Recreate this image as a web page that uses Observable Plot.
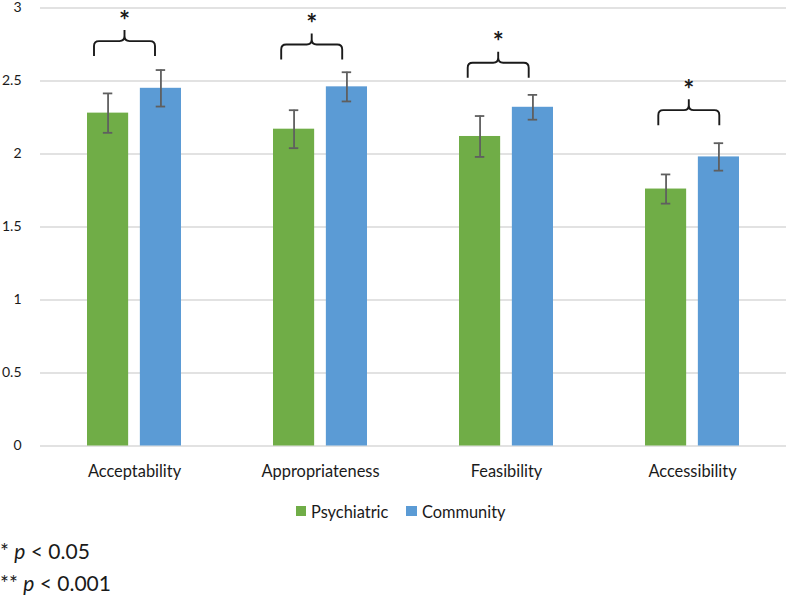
<!DOCTYPE html>
<html>
<head>
<meta charset="utf-8">
<script src="https://cdn.jsdelivr.net/npm/d3@7"></script>
<script src="https://cdn.jsdelivr.net/npm/@observablehq/plot@0.6"></script>
<style>
  body { margin: 0; background: #fff; font-family: Lato, sans-serif; color: #1a1a1a; overflow: hidden; }
  #chart svg { overflow: visible; }
  #chart svg text { font-family: Lato, sans-serif; }
  #chart g[aria-label^="x-axis"] text { font-size: 16.4px; fill: #1a1a1a; }
  #chart g[aria-label^="y-axis"] text { font-size: 14px; fill: #1a1a1a; }
  .legend { display: flex; justify-content: center; align-items: center; height: 24px; margin-top: 9px; padding-left: 14px; font-size: 16.4px; }
  .legend .item { display: flex; align-items: center; margin: 0 9px; }
  .legend .sw { width: 10.5px; height: 10.5px; margin-right: 5px; }
  .caption { margin-top: 12px; font-size: 21px; line-height: 32px; padding-left: 0; }
</style>
</head>
<body>
<div id="chart"></div>
<div class="legend" id="legend"></div>
<div class="caption" id="caption"></div>
<script>
// ---- data ----
const categories = ["Acceptability", "Appropriateness", "Feasibility", "Accessibility"];
const series = ["Psychiatric", "Community"];
const psychiatric = [2.28, 2.17, 2.12, 1.76];
const community = [2.45, 2.46, 2.32, 1.98];
const psychiatricErr = [0.135, 0.13, 0.14, 0.10];
const communityErr = [0.125, 0.10, 0.085, 0.094];
const yTicks = [0, 0.5, 1, 1.5, 2, 2.5, 3];
const significance = ["*", "*", "*", "*"];
const bracketLevel = [2.77, 2.747, 2.622, 2.297];
const captionLines = [["*", "p", "< 0.05"], ["**", "p", "< 0.001"]];
const colors = ["#70AD47", "#5B9BD5"];

// ---- layout / style constants ----
const W = 787, H = 490, ML = 40, MR = 1, MT = 7.5, MB = 44.5;
const PAD = 0.493;
const BW = (W - ML - MR) / categories.length * (1 - PAD);
const BAR_W = 41.7;
const OFF = BW / 2 - BAR_W / 2;
const CAP_INSET = (BW - 10) / 2;
const BRACKET_SHIFT = [-9.5, -8.3, -7.8, -3.2];
const BRACKET_HALF = 30.5;

const rows = categories.flatMap((c, i) => [
  {category: c, series: series[0], value: psychiatric[i], lo: psychiatric[i] - psychiatricErr[i], hi: psychiatric[i] + psychiatricErr[i]},
  {category: c, series: series[1], value: community[i], lo: community[i] - communityErr[i], hi: community[i] + communityErr[i]}
]);
const psych = rows.filter(d => d.series === series[0]);
const comm = rows.filter(d => d.series === series[1]);

const errColor = "#5f5f5f";

const bracketMark = (index, scales) => {
  const x = scales.x, y = scales.y;
  const bw = x.bandwidth ? x.bandwidth() : BW;
  const g = d3.create("svg:g").attr("aria-label", "significance");
  categories.forEach((c, i) => {
    const m = x(c) + bw / 2 + BRACKET_SHIFT[i];
    const L = m - BRACKET_HALF, R = m + BRACKET_HALF;
    const yH = y(bracketLevel[i]), yE = yH + 15, yP = yH - 11, r = 5;
    const d = `M${L},${yE}V${yH + r}Q${L},${yH} ${L + r},${yH}H${m - r}Q${m},${yH} ${m},${yH - r}V${yP}` +
              `M${m},${yH - r}Q${m},${yH} ${m + r},${yH}H${R - r}Q${R},${yH} ${R},${yH + r}V${yE}`;
    g.append("path").attr("d", d).attr("fill", "none").attr("stroke", "#1a1a1a").attr("stroke-width", 1.9);
    g.append("text").attr("x", m).attr("y", yH - 25 + 13.8).attr("text-anchor", "middle")
      .attr("font-size", 26).attr("font-weight", "bold").attr("fill", "#1a1a1a")
      .style("font-family", "Lato, sans-serif").text(significance[i]);
  });
  return g.node();
};

const chart = Plot.plot({
  width: W,
  height: H,
  marginLeft: ML,
  marginRight: MR,
  marginTop: MT,
  marginBottom: MB,
  style: {fontFamily: "Lato, sans-serif", background: "white", color: "#1a1a1a"},
  x: {domain: categories, paddingInner: PAD, paddingOuter: PAD / 2, tickSize: 0, tickPadding: 19, label: null},
  y: {domain: [0, 3], ticks: yTicks, tickFormat: d => String(d), tickSize: 0, tickPadding: 19, label: null},
  marks: [
    Plot.ruleY(yTicks, {stroke: "#d9d9d9", strokeWidth: 1.3}),
    Plot.barY(psych, {x: "category", y: "value", fill: colors[0], insetRight: BW - BAR_W}),
    Plot.barY(comm, {x: "category", y: "value", fill: colors[1], insetLeft: BW - BAR_W}),
    Plot.ruleX(psych, {x: "category", y1: "lo", y2: "hi", dx: -OFF, stroke: errColor, strokeWidth: 1.8}),
    Plot.ruleX(comm, {x: "category", y1: "lo", y2: "hi", dx: OFF, stroke: errColor, strokeWidth: 1.8}),
    Plot.tickY(psych, {x: "category", y: "lo", dx: -OFF, insetLeft: CAP_INSET, insetRight: CAP_INSET, stroke: errColor, strokeWidth: 1.8}),
    Plot.tickY(psych, {x: "category", y: "hi", dx: -OFF, insetLeft: CAP_INSET, insetRight: CAP_INSET, stroke: errColor, strokeWidth: 1.8}),
    Plot.tickY(comm, {x: "category", y: "lo", dx: OFF, insetLeft: CAP_INSET, insetRight: CAP_INSET, stroke: errColor, strokeWidth: 1.8}),
    Plot.tickY(comm, {x: "category", y: "hi", dx: OFF, insetLeft: CAP_INSET, insetRight: CAP_INSET, stroke: errColor, strokeWidth: 1.8}),
    bracketMark
  ]
});
document.getElementById("chart").appendChild(chart);

// legend
const legend = d3.select("#legend");
series.forEach((s, i) => {
  const item = legend.append("div").attr("class", "item");
  item.append("div").attr("class", "sw").style("background", colors[i]);
  item.append("span").text(s);
});

// caption
const caption = d3.select("#caption");
captionLines.forEach(([stars, p, rest]) => {
  const line = caption.append("div");
  line.append("span").text(stars + " ");
  line.append("i").text(p);
  line.append("span").text(" " + rest);
});
</script>
</body>
</html>
